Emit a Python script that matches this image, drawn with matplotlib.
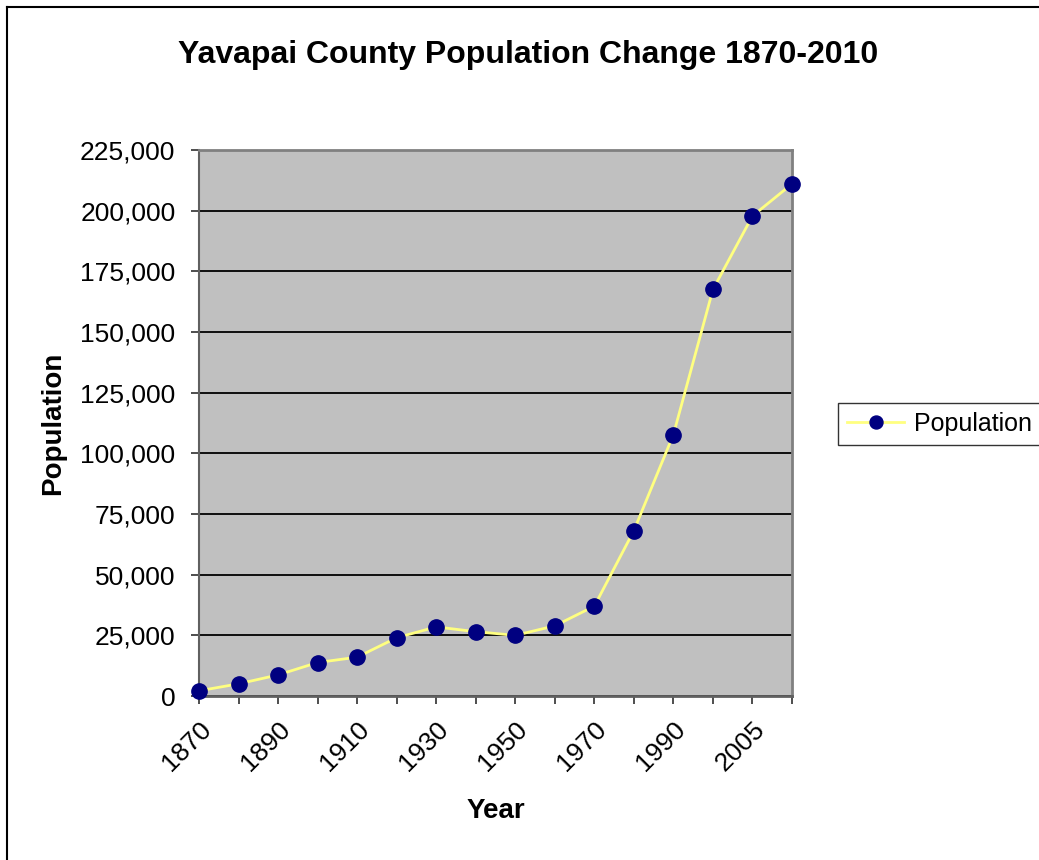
import matplotlib.pyplot as plt
from matplotlib.ticker import FuncFormatter
from matplotlib.lines import Line2D

plt.rcParams['font.family'] = ['Liberation Sans', 'DejaVu Sans']

# Census data
years = ['1870', '1880', '1890', '1900', '1910', '1920', '1930', '1940',
         '1950', '1960', '1970', '1980', '1990', '2000', '2005', '2010']
population = [2142, 5013, 8685, 13799, 15996, 24016, 28470, 26511,
              24991, 28912, 37005, 68145, 107714, 167517, 197800, 211033]
y_ticks = [0, 25000, 50000, 75000, 100000, 125000, 150000, 175000, 200000, 225000]

fig = plt.figure(figsize=(10.39, 8.6), dpi=100)
ax = fig.add_axes([199 / 1039, 1 - 696 / 860, 593 / 1039, 546 / 860])
ax.set_facecolor('#C0C0C0')

x = list(range(len(years)))
ax.plot(x, population, color='#FFFF80', lw=2, marker='o', ms=11,
        mfc='#000080', mec='#000080', label='Population', clip_on=False, zorder=3)

ax.set_xlim(0, len(years) - 1)
ax.set_ylim(0, 225000)
ax.set_yticks(y_ticks)
ax.yaxis.set_major_formatter(FuncFormatter(lambda v, p: f'{int(v):,}'))
ax.yaxis.grid(True, color='black', lw=1.3)
ax.set_axisbelow(True)

ax.set_xticks(x)
ax.set_xticklabels([y if i % 2 == 0 else '' for i, y in enumerate(years)],
                   rotation=45, ha='right', rotation_mode='anchor')
ax.tick_params(axis='both', length=6, width=1.3, color='#404040', labelsize=19,
               direction='out')
ax.tick_params(axis='y', pad=11)
ax.tick_params(axis='x', pad=9)

for side in ['top', 'right']:
    ax.spines[side].set_color('#808080')
    ax.spines[side].set_linewidth(2)
ax.spines['left'].set_color('#606060')
ax.spines['left'].set_linewidth(1.5)
ax.spines['bottom'].set_color('#606060')
ax.spines['bottom'].set_linewidth(2)

ax.set_ylabel('Population', fontsize=20, fontweight='bold', labelpad=10)
ax.set_xlabel('Year', fontsize=20, fontweight='bold', labelpad=16)
fig.text(528 / 1039, 1 - 55 / 860, 'Yavapai County Population Change 1870-2010',
         fontsize=23, fontweight='bold', ha='center', va='center')

leg = ax.legend(loc='center left', bbox_to_anchor=(838 / 1039, 1 - 424 / 860),
                bbox_transform=fig.transFigure, fontsize=18, frameon=True,
                fancybox=False, edgecolor='black', handlelength=2.3,
                handletextpad=0.4, borderpad=0.35, borderaxespad=0,
                markerscale=0.85)
leg.get_frame().set_linewidth(1)

# outer chart frame (only left and top edges show in the image)
fig.lines.append(Line2D([7 / 1039, 7 / 1039], [0, 1 - 7 / 860], transform=fig.transFigure,
                        color='black', lw=1.5))
fig.lines.append(Line2D([7 / 1039, 1], [1 - 7 / 860, 1 - 7 / 860], transform=fig.transFigure,
                        color='black', lw=1.5))

fig.savefig('out.png', dpi=100)
